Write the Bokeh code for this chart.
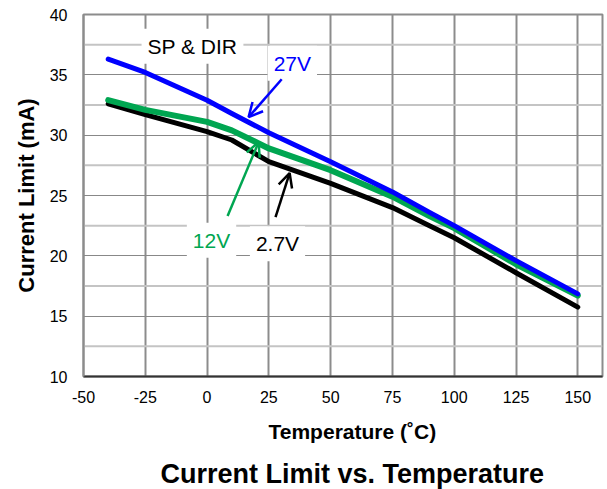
from bokeh.plotting import figure
from bokeh.models import Label, Arrow, OpenHead, FixedTicker, Title, Span
from bokeh.embed import file_html
from bokeh.resources import INLINE

temps = [-40, -25, 0, 10, 25, 50, 75, 90, 100, 125, 150]
v27 = [36.3, 35.2, 32.9, 31.8, 30.2, 27.8, 25.3, 23.6, 22.5, 19.6, 16.85]
v12 = [32.9, 32.1, 31.1, 30.4, 28.9, 27.1, 24.9, 23.3, 22.3, 19.3, 16.7]
v2_7 = [32.6, 31.7, 30.3, 29.6, 27.8, 26.0, 24.0, 22.5, 21.5, 18.6, 15.75]

x_ticks = [-50, -25, 0, 25, 50, 75, 100, 125, 150]
x_tick_labels = ["-50", "-25", "0", "25", "50", "75", "100", "125", "150"]
y_ticks = [10, 15, 20, 25, 30, 35, 40]
y_minor = [12.5, 17.5, 22.5, 27.5, 32.5, 37.5]

FONT = "Liberation Sans"

p = figure(width=607, height=489, x_range=(-50, 160), y_range=(10, 40),
           output_backend="svg", toolbar_location=None,
           min_border_left=83, min_border_right=5, min_border_top=14, min_border_bottom=112)
p.outline_line_color = "#8c8c8c"
p.outline_line_width = 2

p.xgrid.grid_line_color = "#8c8c8c"
p.xgrid.grid_line_width = 2
p.xaxis.ticker = FixedTicker(ticks=x_ticks)
p.xaxis.major_label_overrides = {t: s for t, s in zip(x_ticks, x_tick_labels)}
p.yaxis.ticker = FixedTicker(ticks=y_ticks)
p.ygrid.grid_line_color = "#888888"
p.ygrid.grid_line_width = 1
for yv in y_minor:
    p.add_layout(Span(location=yv, dimension="width", line_color="#c4c4c4", line_width=2, level="underlay"))

for ax in (p.xaxis, p.yaxis):
    ax.major_label_text_font = FONT
    ax.major_label_text_font_size = "16px"
    ax.major_label_text_color = "black"
    ax.axis_label_text_font = FONT
    ax.axis_label_text_font_style = "bold"
    ax.axis_label_text_color = "black"
    ax.minor_tick_line_color = None
    ax.major_tick_line_color = None
p.yaxis.axis_label_text_font_size = "22px"
p.xaxis.axis_line_color = "#333333"
p.xaxis.axis_line_width = 2
p.yaxis.axis_line_color = "#8c8c8c"
p.yaxis.axis_line_width = 2
p.yaxis.axis_label = "Current Limit (mA)"
p.xaxis.major_label_standoff = 8
p.yaxis.major_label_standoff = 10
p.yaxis.axis_label_standoff = 8

p.add_layout(Title(text="Temperature (˚C)", text_font=FONT, text_font_size="21px",
                   text_font_style="bold", align="left", offset=185, standoff=25,
                   text_color="black"), "below")
p.add_layout(Title(text="Current Limit vs. Temperature", text_font=FONT, text_font_size="27px",
                   text_font_style="bold", align="left", offset=77, standoff=2,
                   text_color="black"), "below")

p.line(temps, v2_7, line_color="black", line_width=5, line_cap="round", line_join="round")
p.line(temps, v12, line_color="#00a651", line_width=6, line_cap="round", line_join="round")
p.line(temps, v27, line_color="#0000ff", line_width=5, line_cap="round", line_join="round")

def lab(x, y, text, color):
    p.add_layout(Label(x=x, y=y, text=text, text_color=color, text_font=FONT, text_font_size="21px",
                       text_align="center", text_baseline="middle",
                       background_fill_color="white", padding=6))

lab(-5.9, 37.36, "SP & DIR", "black")
lab(34.5, 35.95, "27V", "#0000ff")
lab(1.8, 21.3, "12V", "#00a651")
lab(28.5, 21.0, "2.7V", "black")

def arr(x0, y0, x1, y1, color):
    p.add_layout(Arrow(end=OpenHead(line_color=color, line_width=2.5, size=14),
                       x_start=x0, y_start=y0, x_end=x1, y_end=y1,
                       line_color=color, line_width=2.5))

arr(30.2, 34.63, 16.8, 31.49, "#0000ff")
arr(8.3, 23.3, 20.85, 29.42, "#00a651")
arr(27.7, 23.2, 33.4, 26.86, "black")

open("out.html", "w").write(file_html(p, INLINE))
